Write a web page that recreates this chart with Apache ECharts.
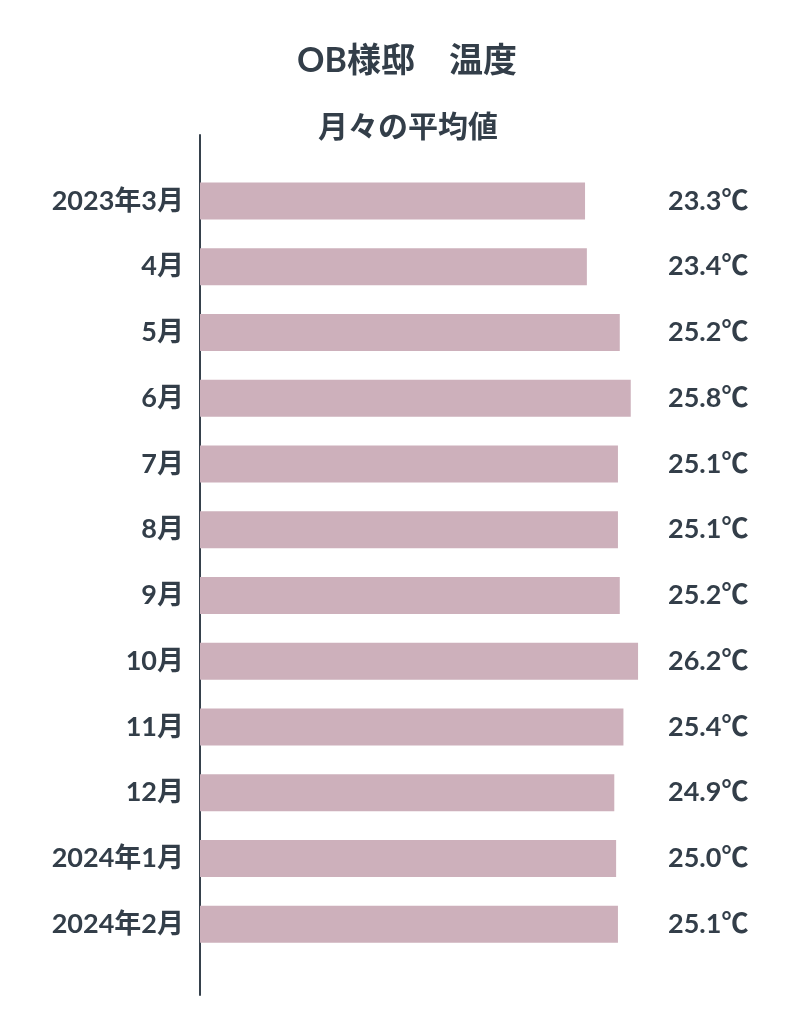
<!DOCTYPE html>
<html><head><meta charset="utf-8">
<script src="https://cdn.jsdelivr.net/npm/echarts@6/dist/echarts.min.js"></script>
<style>html,body{margin:0;padding:0;background:#fff}#c{width:797px;height:1024px}</style>
</head><body><div id="c"></div>
<script>
const categories = ['2023年3月','4月','5月','6月','7月','8月','9月','10月','11月','12月','2024年1月','2024年2月'];
const temps = [23.3, 23.4, 25.2, 25.8, 25.1, 25.1, 25.2, 26.2, 25.4, 24.9, 25.0, 25.1];
const valueLabels = temps.map(v => v.toFixed(1) + '℃');
const titleText = 'OB様邸　温度';
const subtitleText = '月々の平均値';

const FONT = 'Lato, "Noto Sans CJK JP", sans-serif';
const TXT = '#333e49';
const chart = echarts.init(document.getElementById('c'));
chart.setOption({
  backgroundColor: '#fff',
  animation: false,
  title: [
    {text: titleText, left: 402, textAlign: 'center', top: 39, textStyle: {fontFamily: FONT, fontSize: 34, fontWeight: 'bold', color: TXT}},
    {text: subtitleText, left: 403, textAlign: 'center', top: 107, textStyle: {fontFamily: FONT, fontSize: 30, fontWeight: 'bold', color: TXT}}
  ],
  grid: [
    {left: 200, width: 460, top: 168, bottom: 67},
    {left: 200, width: 460, top: 135, bottom: 29}
  ],
  xAxis: [
    {gridIndex: 0, type: 'value', min: 2.24, max: 27.4, show: false},
    {gridIndex: 1, type: 'value', show: false}
  ],
  yAxis: [
    {gridIndex: 0, type: 'category', data: categories, inverse: true,
     axisLine: {show: false}, axisTick: {show: false},
     axisLabel: {margin: 16, fontFamily: FONT, fontSize: 27, fontWeight: 'bold', color: TXT}},
    {gridIndex: 0, type: 'category', data: valueLabels, inverse: true, position: 'right',
     axisLine: {show: false}, axisTick: {show: false},
     axisLabel: {margin: 8, align: 'left', fontFamily: FONT, fontSize: 27, fontWeight: 'bold', color: TXT}},
    {gridIndex: 1, type: 'value', min: 0, max: 1, position: 'left',
     axisLine: {show: true, onZero: false, lineStyle: {color: '#36414c', width: 2}},
     axisTick: {show: false}, axisLabel: {show: false}, splitLine: {show: false}}
  ],
  series: [{
    type: 'bar', xAxisIndex: 0, yAxisIndex: 0,
    data: temps, barWidth: 37,
    itemStyle: {color: '#cdb0bb'}
  }]
});
</script></body></html>
